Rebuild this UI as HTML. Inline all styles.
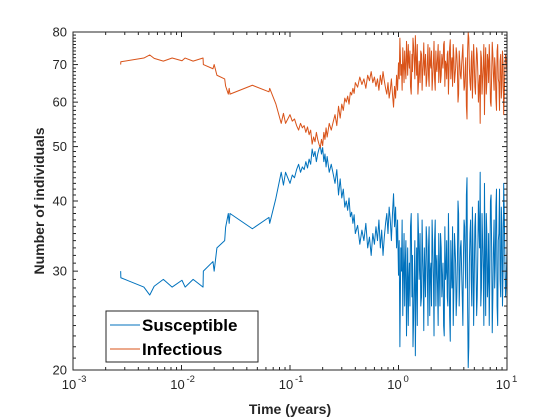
<!DOCTYPE html>
<html><head><meta charset="utf-8"><style>
body{margin:0;background:#fff;}
svg{display:block;font-family:"Liberation Sans",Arial,sans-serif;}
</style></head><body>
<svg id="chart" width="560" height="420" viewBox="0 0 560 420">
<rect x="0" y="0" width="560" height="420" fill="#fff"/>
<g id="series"></g>
<g id="axes"></g>
</svg>
<script>
const times = [0.00275,0.00276,0.0045,0.0051,0.0056,0.0068,0.0082,0.0101,0.0108,0.0128,0.0158,0.0159,0.0195,0.020,0.0212,0.025,0.0255,0.027,0.0275,0.028,0.045,0.064,0.065,0.074,0.083,0.087,0.091,
0.1,0.105,0.11,0.115,0.12,0.125,0.13,0.135,0.14,0.145,0.15,0.155,0.16,0.165,0.17,0.175,0.18,0.185,0.19,0.195,0.2,0.205,0.21,0.215,0.22,0.23,0.24,0.25,0.26,0.27,0.28,0.29,0.30,0.31,0.32,0.33,0.34,0.35,0.36,0.37,0.38,0.39,0.40,0.42,0.44,0.46,0.48,0.50,0.52,0.54,0.56,0.58,0.60,0.62,0.64,0.66,0.68,0.70,0.72,0.74,0.76,0.78,0.80,0.82,0.84,0.86,0.88,0.90,0.92,0.94,0.96,0.98,
1.00,1.03,1.05,1.08,1.11,1.14,1.17,1.20,1.23,1.26,1.29,1.33,1.36,1.40,1.43,1.47,1.51,1.55,1.58,1.63,1.67,1.71,1.75,1.80,1.85,1.89,1.94,1.99,2.04,2.10,2.15,2.21,2.26,2.32,2.38,2.44,2.51,2.57,2.64,2.71,2.78,2.85,2.92,3.00,3.07,3.15,3.24,3.32,3.40,3.49,3.58,3.67,3.77,3.87,3.97,4.07,4.17,4.28,4.39,4.50,4.62,4.74,4.86,4.99,5.12,5.25,5.38,5.52,5.66,5.81,5.96,6.12,6.28,6.44,6.60,6.77,6.95,7.13,7.31,7.50,7.70,7.90,8.10,8.31,8.53,8.75,8.97,9.20,9.44,9.69,10.0];
const susceptible = [30,29.2,28.1,27.2,28.2,29,28.1,28.9,28.1,29,28.1,30,31.2,30,33,34,35.9,38,36.5,38,35.7,37.4,36.5,40.4,45,42.7,45,
43,44.5,44,45.5,46.5,45,46,45.5,47,45.8,47.5,46.5,49.5,48,49,47,48.5,49.5,50.2,48.5,49.8,47,48.5,46,48,45,46.5,44.7,43,45.5,41,43.8,40.5,42,39,40,38.5,40.5,37.5,38.2,36.5,37.8,35,36.2,33.5,35.5,34,36.5,33,34.5,32,35,33.5,36,34,37,33,35.5,32,34.5,36.5,38,35,39,37,34,38,41.2,36,39,33,37,
29.5,22,33,37,30,26,34,28,24,31,36,27,22,30,21.2,33,38,29,35,27,32,23.5,30,36,28,33,25,31,37,29,34,26,32,24,30,35,27,31,23,29,34,26,32,22.5,30,36,28,33,25,31,38,29,34,27,32,36,28,44,20.2,31,37,26,33,29,38,25,32,36,45,28,34,24,31,38,27,35,30,41,23.3,33,28,39,26,34,42,27,36,30,38,27,33];
const infectious = [70,70.8,71.9,72.8,71.8,71,71.9,71.1,71.9,71,71.9,70,68.8,70,67,66,64.1,62,63.5,62,64.3,62.6,63.5,59.6,55,57.3,55,
57,55.5,56,54.5,53.5,55,54,54.5,53,54.2,52.5,53.5,50.5,52,51,53,51.5,50.5,49.8,51.5,50.2,53,51.5,54,52,55,53.5,55.3,57,54.5,59,56.2,59.5,58,61,60,61.5,59.5,62.5,61.8,63.5,62.2,65,63.8,66.5,64.5,66,63.5,67,65.5,68,65,66.5,64,66,63,67,64.5,68,65.5,63.5,62,65,61,63,66,62,58.8,64,61,67,63,
70.5,78,67,63,70,74,66,72,76,69,64,73,78,70,78.8,67,62,71,65,73,68,76.5,70,64,72,67,75,69,63,71,66,74,68,76,70,65,73,69,77,71,66,74,68,77.5,70,64,72,67,75,69,62,71,66,73,68,64,72,56,79.8,69,63,74,67,71,62,75,68,64,55,72,66,76,69,62,73,65,70,59,76.7,67,72,61,74,66,58,73,64,70,62,73,67];
const extraTimes = [1.015,1.04,1.065,1.095,1.125,1.155,1.185,1.215,1.245,1.275,1.31,1.345,1.38,1.415,1.45,1.49,1.53,1.565,1.605,1.65,1.69,1.73,1.775,1.825,1.87,1.915,1.965,2.015,2.07,2.125,2.18,2.235,2.29,2.35,2.41,2.475,2.54,2.605,2.675,2.745,2.815,2.885,2.96,3.035,3.11,3.195,3.28,3.36,3.445,3.535,3.625,3.72,3.82,3.92,4.02,4.12,4.225,4.335,4.445,4.56,4.68,4.80,4.925,5.055,5.185,5.315,5.45,5.59,5.735,5.885,6.04,6.20,6.36,6.52,6.685,6.86,7.04,7.22,7.405,7.60,7.80,8.00,8.205,8.42,8.64,8.86,9.085,9.32,9.565,9.845];
const extraSusceptible = [34,27,30,25,35,31,23,33,29,26,38,32,25,34,28,24,35,31,26,37,29,33,27,34,24,36,30,26,33,23,37,31,28,35,26,33,29,24,36,30,27,38,25,34,28,24,35,31,27,40,26,33,30,24,37,31,41,26,22,35,29,39,24,36,31,27,40,33,26,38,30,43,25,35,29,24,40,33,27,37,31,42,24,35,29,39,26,43,31,29];
const extraInfectious = [66,73,70,75,65,69,77,67,71,74,62,68,75,66,72,76,65,69,74,63,71,67,73,66,76,64,70,74,67,77,63,69,72,65,74,67,71,76,64,70,73,62,75,66,72,76,65,69,73,60,74,67,70,76,63,69,59,74,78,65,71,61,76,64,69,73,60,67,74,62,70,57,75,65,71,76,60,67,73,63,69,58,76,65,71,61,74,57,69,71];
const yTicks = [20,30,40,50,60,70,80];
const xTickExps = [-3,-2,-1,0,1];
const seriesNames = ["Susceptible","Infectious"];

const L=73,R=507,T=32,B=370;
const xMin=-3,xMax=1,yMin=Math.log10(20),yMax=Math.log10(80);
function xs(t){return L+(Math.log10(t)-xMin)/(xMax-xMin)*(R-L);}
function ys(v){return B-(Math.log10(v)-yMin)/(yMax-yMin)*(B-T);}
const NS="http://www.w3.org/2000/svg";
function mk(tag,attrs,parent){const e=document.createElementNS(NS,tag);for(const k in attrs)e.setAttribute(k,attrs[k]);parent.appendChild(e);return e;}
const ser=document.getElementById('series'), ax=document.getElementById('axes');

function merged(baseT,baseV,exT,exV){
  const pts=[];
  for(let i=0;i<baseT.length;i++)pts.push([baseT[i],baseV[i]]);
  for(let i=0;i<exT.length;i++)pts.push([exT[i],exV[i]]);
  pts.sort((a,b)=>a[0]-b[0]);
  return pts;
}
function drawLine(pts,color,name){
  let d='';
  pts.forEach((p,i)=>{d+=(i?'L':'M')+xs(p[0]).toFixed(2)+','+ys(p[1]).toFixed(2);});
  const p=mk('path',{d:d,fill:'none',stroke:color,'stroke-width':1,'stroke-linejoin':'round'},ser);
  
  
}
drawLine(merged(times,susceptible,extraTimes,extraSusceptible),'#0072BD','susceptible-line');
drawLine(merged(times,infectious,extraTimes,extraInfectious),'#D95319','infectious-line');

const box=mk('rect',{x:L,y:T,width:R-L,height:B-T,fill:'none',stroke:'#262626','stroke-width':1},ax);



yTicks.forEach(v=>{
  const y=ys(v);
  mk('line',{x1:L,y1:y,x2:L+5,y2:y,stroke:'#262626'},ax);
  mk('line',{x1:R,y1:y,x2:R-5,y2:y,stroke:'#262626'},ax);
  const t=mk('text',{x:L-6,y:y+4.5,'text-anchor':'end','font-size':13,fill:'#262626'},ax);
  t.textContent=v;
  
  
});
for(let v=21;v<80;v++){ if(v%10===0)continue;
  const y=ys(v);
  mk('line',{x1:L,y1:y,x2:L+3,y2:y,stroke:'#262626'},ax);
  mk('line',{x1:R,y1:y,x2:R-3,y2:y,stroke:'#262626'},ax);
}
xTickExps.forEach(e=>{
  const x=xs(Math.pow(10,e));
  mk('line',{x1:x,y1:B,x2:x,y2:B-5,stroke:'#262626'},ax);
  mk('line',{x1:x,y1:T,x2:x,y2:T+5,stroke:'#262626'},ax);
  const t=mk('text',{x:x-4,y:B+19,'text-anchor':'middle','font-size':13,fill:'#262626'},ax);
  t.textContent='10';
  
  
  const s=mk('text',{x:x+5,y:B+12,'text-anchor':'start','font-size':9.5,fill:'#262626'},ax);
  s.textContent=String(e);
  
  
  if(e<xMax){for(let m=2;m<=9;m++){const xm=xs(m*Math.pow(10,e));
    mk('line',{x1:xm,y1:B,x2:xm,y2:B-3,stroke:'#262626'},ax);
    mk('line',{x1:xm,y1:T,x2:xm,y2:T+3,stroke:'#262626'},ax);}}
});
const xl=mk('text',{x:(L+R)/2,y:414,'text-anchor':'middle','font-size':14,'font-weight':'bold',fill:'#262626'},ax);
xl.textContent='Time (years)';


const yl=mk('text',{x:0,y:0,'text-anchor':'middle','font-size':14,'font-weight':'bold',fill:'#262626',transform:'translate(44,201) rotate(-90)'},ax);
yl.textContent='Number of individuals';



const lg=mk('g',{},ax);


mk('rect',{x:106,y:311,width:152,height:51,fill:'#fff',stroke:'#262626','stroke-width':1},lg);
const cols=['#0072BD','#D95319'];
seriesNames.forEach((n,i)=>{
  const y=325+i*24;
  const ln=mk('line',{x1:110,y1:y,x2:140,y2:y,stroke:cols[i],'stroke-width':1},lg);
  
  
  const t=mk('text',{x:142,y:y+6,'font-size':17,'font-weight':'bold',fill:'#000'},lg);
  t.textContent=n;
  
  
});
</script>
</body></html>
